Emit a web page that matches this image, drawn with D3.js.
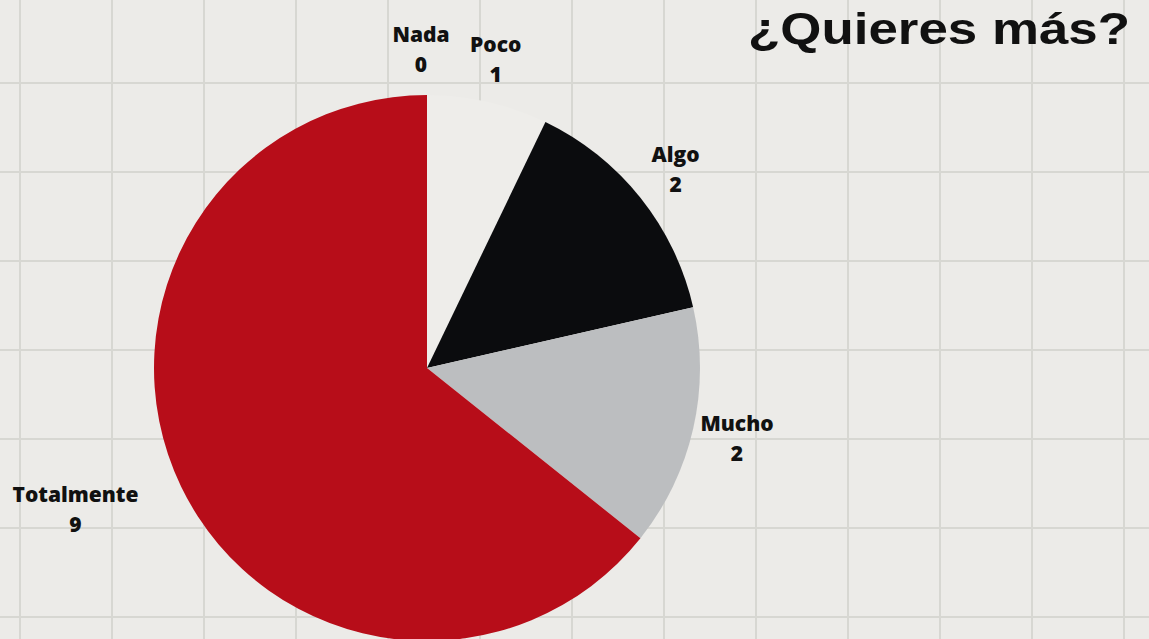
<!DOCTYPE html>
<html>
<head>
<meta charset="utf-8">
<script src="https://cdn.jsdelivr.net/npm/d3@7"></script>
<style>
  html, body { margin: 0; padding: 0; background: #ecebe8; }
  svg { display: block; }
</style>
</head>
<body>
<svg id="chart" width="1149" height="639"></svg>
<script>
// Survey answers for "¿Quieres más?"
const categories = ["Nada", "Poco", "Algo", "Mucho", "Totalmente"];
const counts = [0, 1, 2, 2, 9];
const sliceColors = ["#e6e4e0", "#eeedea", "#0b0c0e", "#bcbec0", "#b70d19"];
const title = "¿Quieres más?";

const width = 1149, height = 639;
const cx = 427, cy = 368, radius = 273;

const svg = d3.select("#chart");

// Squared-paper background
svg.append("rect").attr("width", width).attr("height", height).attr("fill", "#ecebe8");
const gx = d3.range(20, width, 92);
const gy = d3.range(83 - 89, height, 89);
const grid = svg.append("g").attr("stroke", "#cfcfca").attr("stroke-width", 2).attr("opacity", 0.7);
grid.selectAll("line.v").data(gx).join("line").attr("class", "v")
  .attr("x1", d => d).attr("x2", d => d).attr("y1", 0).attr("y2", height);
grid.selectAll("line.h").data(gy).join("line").attr("class", "h")
  .attr("y1", d => d).attr("y2", d => d).attr("x1", 0).attr("x2", width);

const data = categories.map((c, i) => ({ name: c, value: counts[i], color: sliceColors[i] }));

const pie = d3.pie().sort(null).value(d => d.value);
const arcs = pie(data);
const arc = d3.arc().innerRadius(0).outerRadius(radius);

const g = svg.append("g").attr("transform", `translate(${cx},${cy})`);
g.selectAll("path").data(arcs.filter(a => a.data.value > 0)).join("path")
  .attr("d", arc)
  .attr("fill", d => d.data.color);

// Labels sit on an outer ring, with small nudges so they clear each other
const labelArc = d3.arc().innerRadius(318).outerRadius(318);
const nudge = { "Nada": [-6, 0], "Poco": [-2, 2], "Algo": [0, 0], "Mucho": [0, 0], "Totalmente": [-65, 4] };

const labels = g.selectAll("g.lbl").data(arcs).join("g").attr("class", "lbl")
  .attr("transform", d => {
    const [x, y] = labelArc.centroid(d);
    const [dx, dy] = nudge[d.data.name];
    return `translate(${x + dx},${y + dy})`;
  });
const labelStyle = sel => sel
  .attr("text-anchor", "middle")
  .attr("font-family", "'Open Sans', sans-serif")
  .attr("font-weight", 800)
  .attr("font-size", 21)
  .attr("fill", "#111");
labels.append("text").call(labelStyle).attr("y", -8).text(d => d.data.name);
labels.append("text").call(labelStyle).attr("y", 22).text(d => d.data.value);

svg.append("text")
  .attr("x", 748).attr("y", 44)
  .attr("textLength", 382)
  .attr("lengthAdjust", "spacingAndGlyphs")
  .attr("font-family", "'Liberation Sans', Arial, sans-serif")
  .attr("font-weight", 700)
  .attr("font-size", 45)
  .attr("fill", "#111")
  .text(title);
</script>
</body>
</html>
